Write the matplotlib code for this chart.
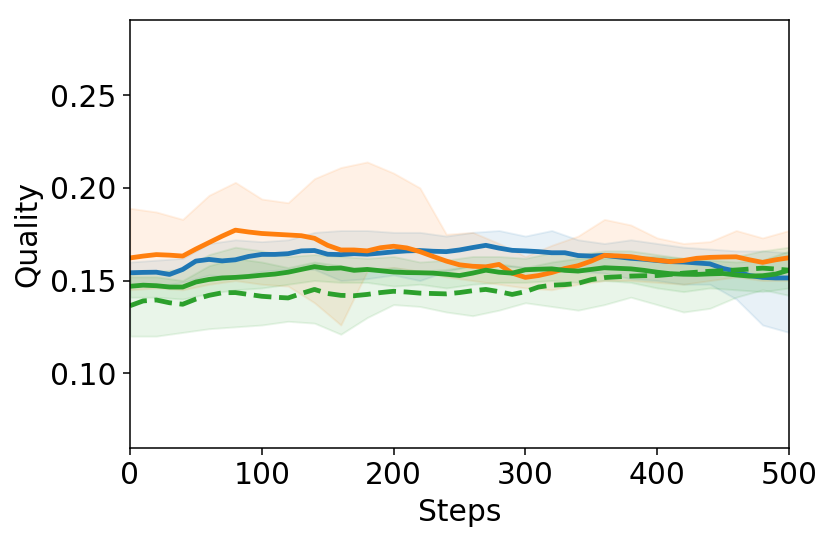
import numpy as np
import matplotlib
matplotlib.use("Agg")
from matplotlib import pyplot as plt

# mean curves, read every 10 steps
steps = np.arange(0, 501, 10)
blue_mean = [0.1542, 0.1544, 0.1545, 0.1533, 0.1560, 0.1605, 0.1614, 0.1606, 0.1612, 0.1630,
             0.1641, 0.1641, 0.1645, 0.1660, 0.1662, 0.1642, 0.1640, 0.1645, 0.1642, 0.1648,
             0.1655, 0.1660, 0.1662, 0.1658, 0.1656, 0.1665, 0.1678, 0.1690, 0.1675, 0.1663,
             0.1660, 0.1656, 0.1650, 0.1650, 0.1635, 0.1632, 0.1636, 0.1628, 0.1620, 0.1615,
             0.1608, 0.1602, 0.1600, 0.1595, 0.1590, 0.1565, 0.1550, 0.1527, 0.1517, 0.1514,
             0.1514]
orange_mean = [0.1622, 0.1632, 0.1640, 0.1637, 0.1632, 0.1670, 0.1705, 0.1740, 0.1772, 0.1762,
               0.1754, 0.1750, 0.1746, 0.1742, 0.1728, 0.1690, 0.1665, 0.1665, 0.1660, 0.1677,
               0.1685, 0.1676, 0.1656, 0.1630, 0.1605, 0.1585, 0.1577, 0.1574, 0.1587, 0.1540,
               0.1517, 0.1527, 0.1543, 0.1565, 0.1580, 0.1605, 0.1636, 0.1633, 0.1629, 0.1618,
               0.1610, 0.1602, 0.1608, 0.1620, 0.1625, 0.1627, 0.1628, 0.1612, 0.1598, 0.1612,
               0.1623]
green_mean = [0.1469, 0.1475, 0.1472, 0.1465, 0.1465, 0.1492, 0.1506, 0.1514, 0.1517, 0.1522,
              0.1529, 0.1535, 0.1545, 0.1560, 0.1575, 0.1565, 0.1568, 0.1555, 0.1560, 0.1553,
              0.1546, 0.1543, 0.1542, 0.1540, 0.1534, 0.1527, 0.1540, 0.1556, 0.1545, 0.1540,
              0.1558, 0.1561, 0.1563, 0.1555, 0.1551, 0.1560, 0.1569, 0.1566, 0.1563, 0.1555,
              0.1545, 0.1537, 0.1534, 0.1533, 0.1536, 0.1538, 0.1530, 0.1524, 0.1526, 0.1535,
              0.1556]
dashed_mean = [0.1364, 0.1390, 0.1395, 0.1380, 0.1372, 0.1400, 0.1420, 0.1434, 0.1435, 0.1425,
               0.1415, 0.1410, 0.1406, 0.1430, 0.1452, 0.1430, 0.1420, 0.1418, 0.1425, 0.1435,
               0.1442, 0.1438, 0.1432, 0.1430, 0.1428, 0.1435, 0.1445, 0.1452, 0.1440, 0.1425,
               0.1440, 0.1465, 0.1475, 0.1478, 0.1485, 0.1505, 0.1516, 0.1520, 0.1524, 0.1526,
               0.1527, 0.1533, 0.1540, 0.1545, 0.1550, 0.1553, 0.1557, 0.1562, 0.1567, 0.1562,
               0.1556]

# shaded bands, read every 20 steps
band_steps = np.arange(0, 501, 20)
blue_hi = [0.160, 0.161, 0.162, 0.170, 0.172, 0.171, 0.172, 0.176, 0.177, 0.177, 0.176, 0.176, 0.174,
           0.176, 0.177, 0.174, 0.177, 0.172, 0.170, 0.172, 0.170, 0.168, 0.167, 0.166, 0.166, 0.165]
blue_lo = [0.148, 0.147, 0.149, 0.153, 0.152, 0.155, 0.156, 0.156, 0.150, 0.151, 0.153, 0.150, 0.155,
           0.158, 0.158, 0.157, 0.156, 0.155, 0.154, 0.151, 0.150, 0.148, 0.148, 0.140, 0.126, 0.122]
orange_hi = [0.189, 0.187, 0.183, 0.196, 0.203, 0.194, 0.192, 0.205, 0.211, 0.214, 0.208, 0.200, 0.175,
             0.176, 0.170, 0.163, 0.169, 0.174, 0.183, 0.180, 0.173, 0.170, 0.171, 0.177, 0.173, 0.177]
orange_lo = [0.145, 0.146, 0.145, 0.148, 0.150, 0.148, 0.147, 0.138, 0.126, 0.155, 0.157, 0.155, 0.152,
             0.150, 0.148, 0.146, 0.145, 0.148, 0.150, 0.150, 0.149, 0.148, 0.150, 0.152, 0.150, 0.150]
green_hi = [0.153, 0.155, 0.156, 0.164, 0.168, 0.166, 0.163, 0.164, 0.163, 0.162, 0.163, 0.160, 0.161,
            0.163, 0.163, 0.162, 0.165, 0.164, 0.166, 0.166, 0.164, 0.162, 0.161, 0.160, 0.161, 0.166]
green_lo = [0.141, 0.141, 0.140, 0.143, 0.145, 0.146, 0.148, 0.150, 0.149, 0.149, 0.147, 0.148, 0.146,
            0.148, 0.149, 0.149, 0.150, 0.149, 0.150, 0.149, 0.146, 0.144, 0.146, 0.145, 0.144, 0.146]
dashed_hi = [0.152, 0.152, 0.150, 0.158, 0.162, 0.160, 0.157, 0.160, 0.158, 0.156, 0.157, 0.155, 0.156,
             0.158, 0.159, 0.157, 0.160, 0.162, 0.162, 0.163, 0.163, 0.162, 0.162, 0.163, 0.166, 0.168]
dashed_lo = [0.120, 0.120, 0.122, 0.124, 0.125, 0.126, 0.128, 0.127, 0.121, 0.130, 0.137, 0.136, 0.133,
             0.131, 0.134, 0.138, 0.136, 0.134, 0.137, 0.141, 0.137, 0.133, 0.135, 0.141, 0.145, 0.142]

series = [
    (blue_mean, blue_lo, blue_hi, "C0", "-"),
    (orange_mean, orange_lo, orange_hi, "C1", "-"),
    (green_mean, green_lo, green_hi, "C2", "-"),
    (dashed_mean, dashed_lo, dashed_hi, "C2", "--"),
]

plt.rcParams["font.size"] = 15.5
fig = plt.figure(figsize=(831 / 138, 542 / 138), dpi=138)
ax = fig.add_axes([0.1564, 0.1734, 0.793, 0.7896])

for mean, lo, hi, color, ls in series:
    ax.plot(steps, mean, color=color, linestyle=ls, linewidth=2.5)
    ax.fill_between(band_steps, lo, hi, color=color, alpha=0.1)

ax.set_xlim(0, 500)
ax.set_ylim(0.0596, 0.2906)
ax.set_yticks([0.10, 0.15, 0.20, 0.25])
ax.set_xlabel("Steps")
ax.set_ylabel("Quality")

fig.savefig("out.png", dpi=138)
